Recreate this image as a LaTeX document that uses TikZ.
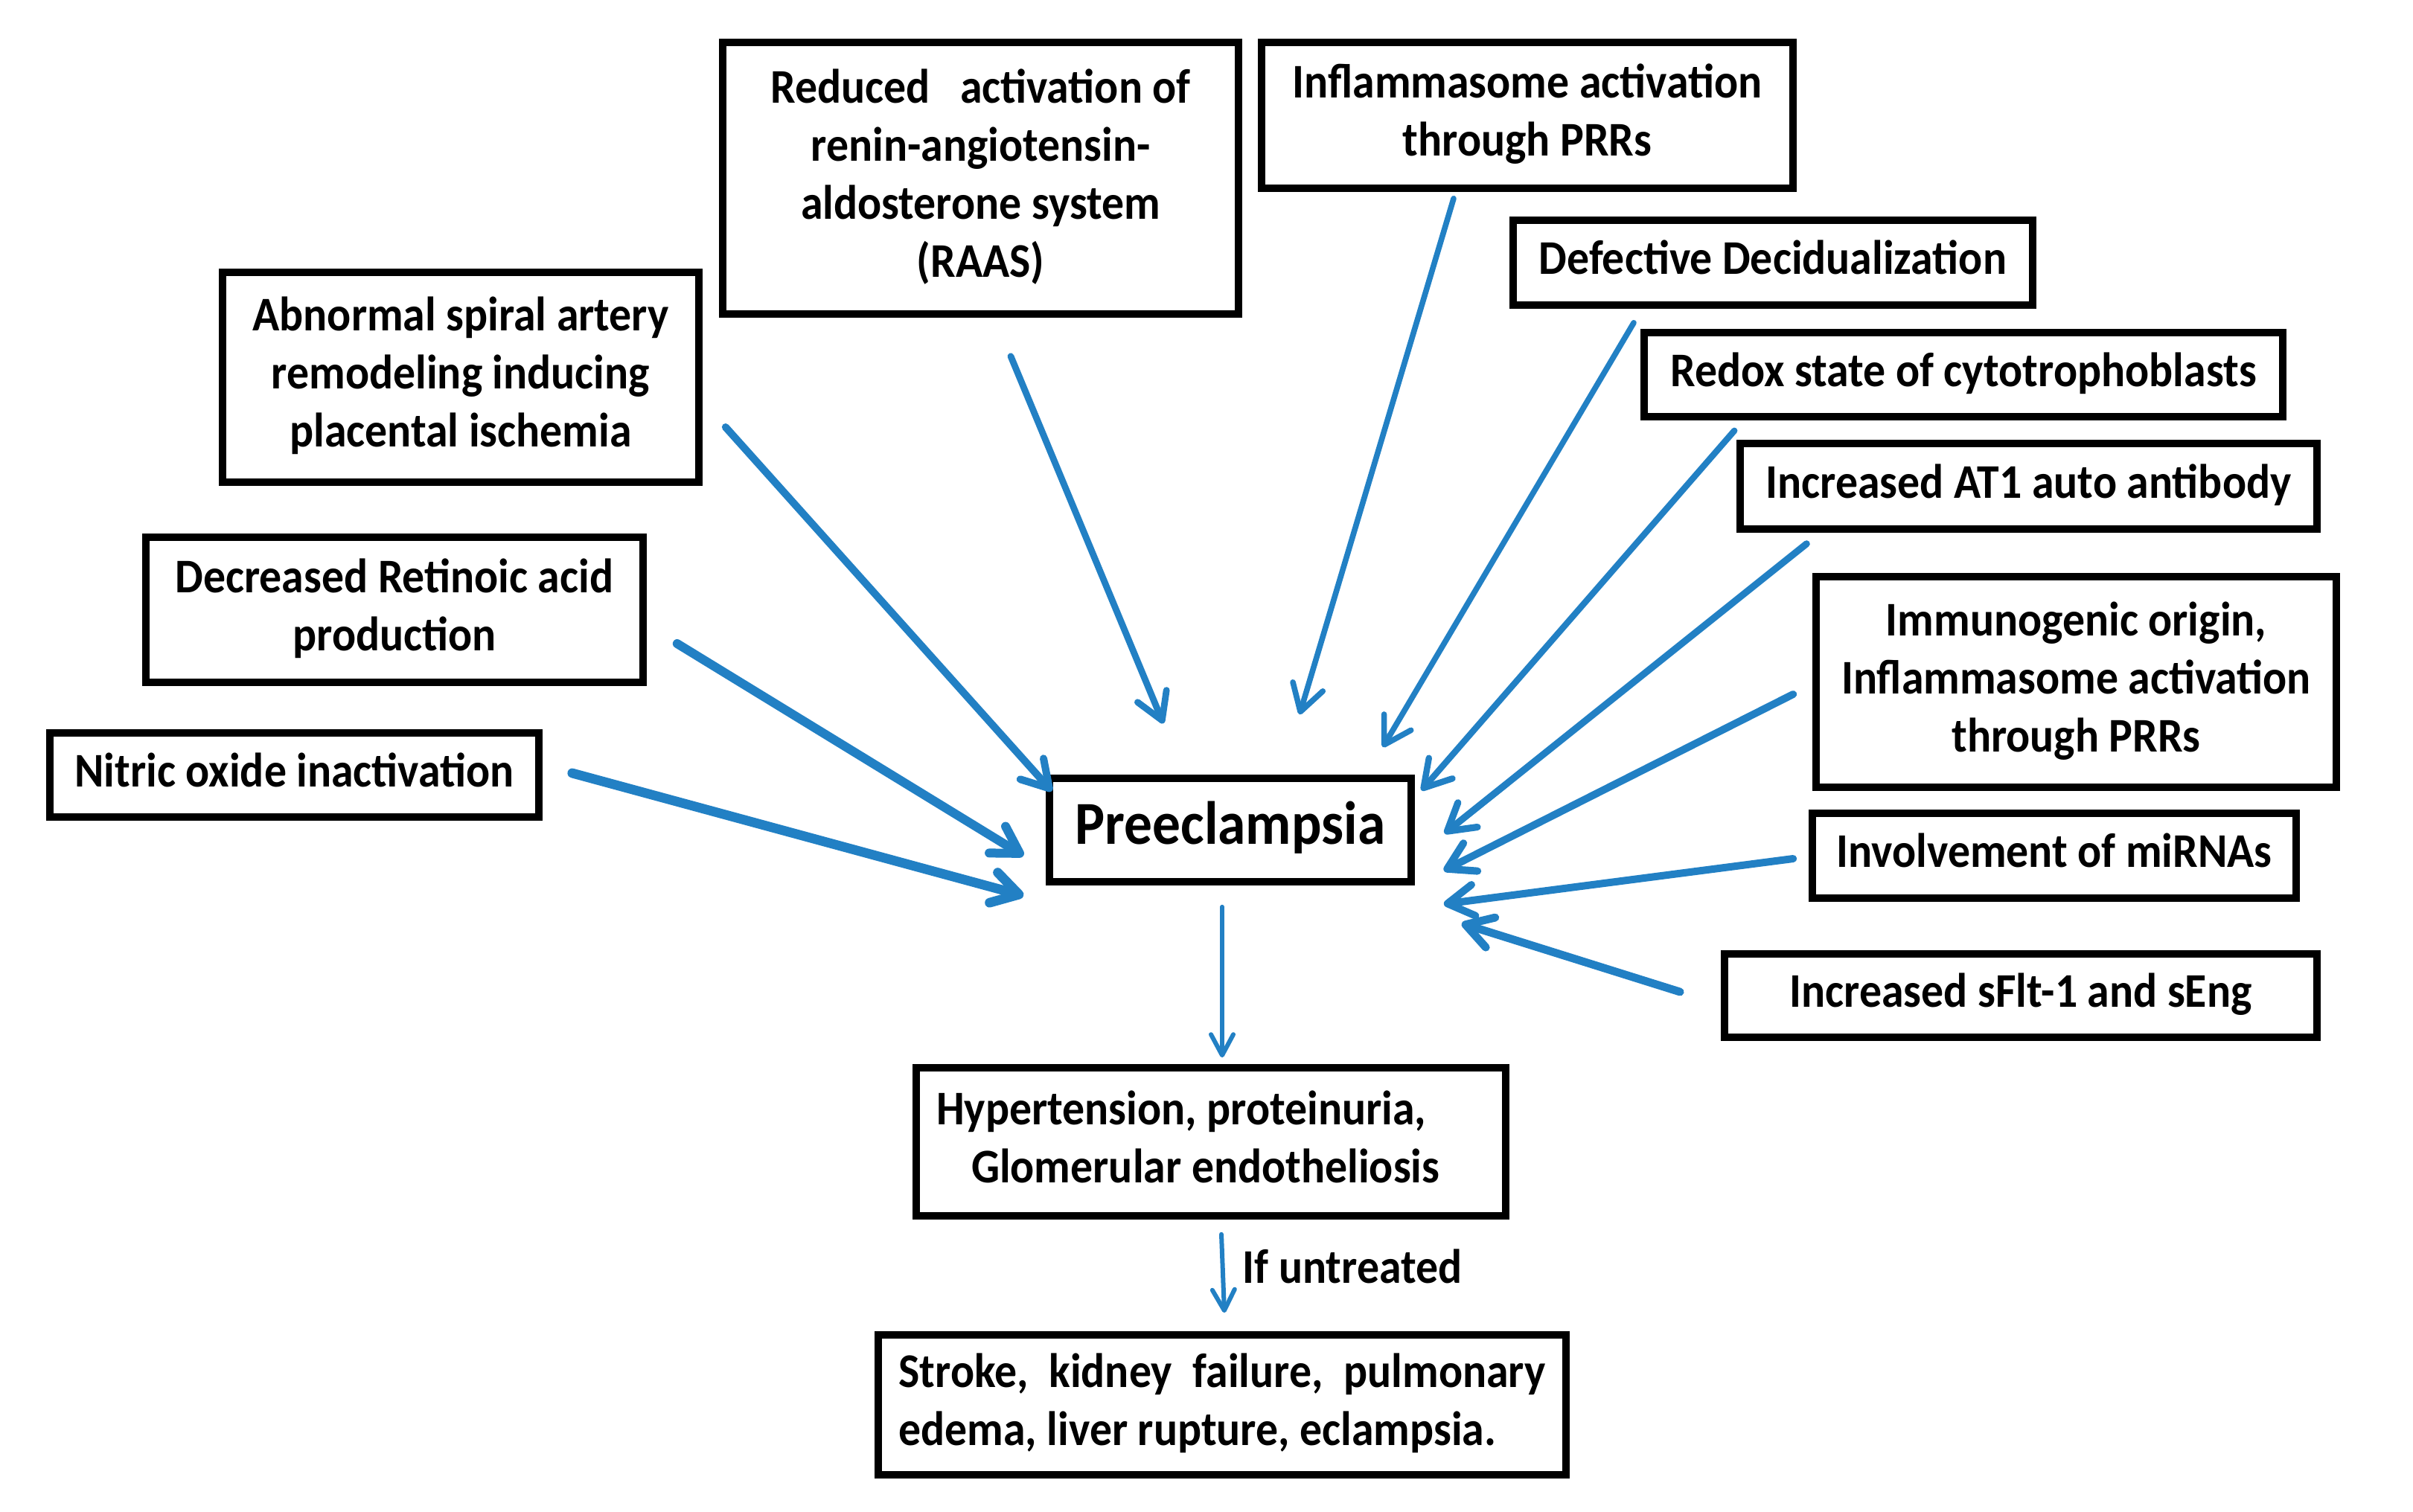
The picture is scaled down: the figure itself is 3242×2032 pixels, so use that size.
\documentclass[tikz,border=0pt]{standalone}
\usepackage{fontspec}
\setmainfont{Carlito}[FakeStretch=0.92]
\usetikzlibrary{arrows.meta,calc}
\definecolor{arrblue}{RGB}{34,128,196}
\newcommand\bt[2][0pt]{\raisebox{#1}{\begin{tabular}{@{}c@{}}#2\end{tabular}}}
\begin{document}
\begin{tikzpicture}[x=0.25pt,y=-0.25pt,
  txt/.style={font=\fontsize{16.25pt}{19.5pt}\selectfont\bfseries\frenchspacing},
  box/.style={txt, draw, line width=2.4pt, inner sep=0pt},
  arr/.style={draw=arrblue, line cap=round, line join=round,
    -{Straight Barb[length=8.8pt,width=10.5pt,round]}},
  arrs/.style={draw=arrblue, line cap=round, line join=round, line width=1.5pt,
    -{Straight Barb[length=7pt,width=7.5pt,round]}},
]
\useasboundingbox (0,0) rectangle (3242,2032);
% boxes
\node[box, minimum width=173.25pt, minimum height=91.25pt] (raas) at (1317.5,239.5)
  {\bt[2.4pt]{Reduced\ \ \ activation of\\renin-angiotensin-\\aldosterone system\\(RAAS)}};
\node[box, minimum width=160pt, minimum height=70.5pt] (abn) at (619,507)
  {\bt[1.6pt]{Abnormal spiral artery\\remodeling inducing\\placental ischemia}};
\node[box, minimum width=167pt, minimum height=48.75pt] (dec) at (530,819.5)
  {\bt[0.9pt]{Decreased Retinoic acid\\production}};
\node[box, minimum width=164.25pt, minimum height=28.25pt] (nit) at (395.5,1041.5)
  {\bt{Nitric oxide inactivation}};
\node[box, minimum width=178.5pt, minimum height=49pt] (infl) at (2052,155)
  {\bt[0.75pt]{Inflammasome activation\\through PRRs}};
\node[box, minimum width=174.5pt, minimum height=28.5pt] (def) at (2382,353)
  {\bt{Defective Decidualization}};
\node[box, minimum width=214.5pt, minimum height=28.25pt] (red) at (2638,503.5)
  {\bt[0.5pt]{Redox state of cytotrophoblasts}};
\node[box, minimum width=193.75pt, minimum height=28.75pt] (at1) at (2725.5,653.5)
  {\bt[0.5pt]{Increased AT1 auto antibody}};
\node[box, minimum width=174.75pt, minimum height=70.75pt] (imm) at (2789.5,916.5)
  {\bt[1.9pt]{Immunogenic origin,\\Inflammasome activation\\through PRRs}};
\node[box, minimum width=162.5pt, minimum height=28.5pt] (mir) at (2760,1150)
  {\bt{Involvement of miRNAs}};
\node[box, minimum width=199pt, minimum height=28pt] (sfl) at (2715,1338)
  {\bt{Increased sFlt-1 and sEng}};
\node[box, minimum width=121.5pt, minimum height=34.75pt,
  font=\fontsize{20.5pt}{24pt}\selectfont\bfseries] (pre) at (1653,1115.5)
  {\bt{Preeclampsia}};
\node[box, minimum width=198pt, minimum height=49.75pt] (hyp) at (1627,1534.5)
  {\bt[0.9pt]{\makebox[184.5pt][l]{Hypertension, proteinuria,}\\
   \makebox[184.5pt][l]{\hspace*{11.75pt}Glomerular endotheliosis}}};
\node[box, minimum width=231pt, minimum height=47pt] (str) at (1642,1888)
  {\bt{\makebox[217.25pt][s]{Stroke, kidney failure, pulmonary}\\
   \makebox[217.25pt][l]{edema, liver rupture, eclampsia.}}};
\node[txt, anchor=base west, inner sep=0pt] (lbl) at (1669,1724) {If untreated};
% arrows into Preeclampsia
\draw[arr, line width=3.2pt] ($(nit.east)+(40,-2.5)$) -- ($(pre.south west)+(-30,14)$);
\draw[arr, line width=3pt] ($(dec.east)+(41,45.5)$) -- ($(pre.west)+(-30,34.5)$);
\draw[arr, line width=2.5pt] ($(abn.east)+(31,67)$) -- ($(pre.north west)+(8,22)$);
\draw[arr, line width=2.2pt] ($(raas.south)+(40.5,52)$) -- ($(pre.north)+(-90,-69)$);
\draw[arr, line width=1.9pt] ($(infl.south)+(-99,9)$) -- ($(pre.north)+(93,-81)$);
\draw[arr, line width=1.9pt] ($(def.south)+(-187,19)$) -- ($(pre.north east)+(-43,-37)$);
\draw[arr, line width=2.1pt] ($(red.south west)+(126,14)$) -- ($(pre.north east)+(9,21)$);
\draw[arr, line width=2.3pt] ($(at1.south west)+(94,15)$) -- ($(pre.east)+(40,4.5)$);
\draw[arr, line width=2.5pt] ($(imm.west)+(-26,16.5)$) -- ($(pre.east)+(39,54.5)$);
\draw[arr, line width=2.5pt] ($(mir.west)+(-21,4)$) -- ($(pre.east)+(39,99.5)$);
\draw[arr, line width=2.7pt] ($(sfl.west)+(-55,-5)$) -- ($(pre.east)+(63,125.5)$);
% downward arrows
\draw[arrs] ($(pre.south)+(-11,29)$) -- ($(hyp.north)+(15,-9)$);
\draw[arrs] ($(hyp.south)+(14,20)$) -- ($(str.north)+(3,-25)$);
\end{tikzpicture}
\end{document}
